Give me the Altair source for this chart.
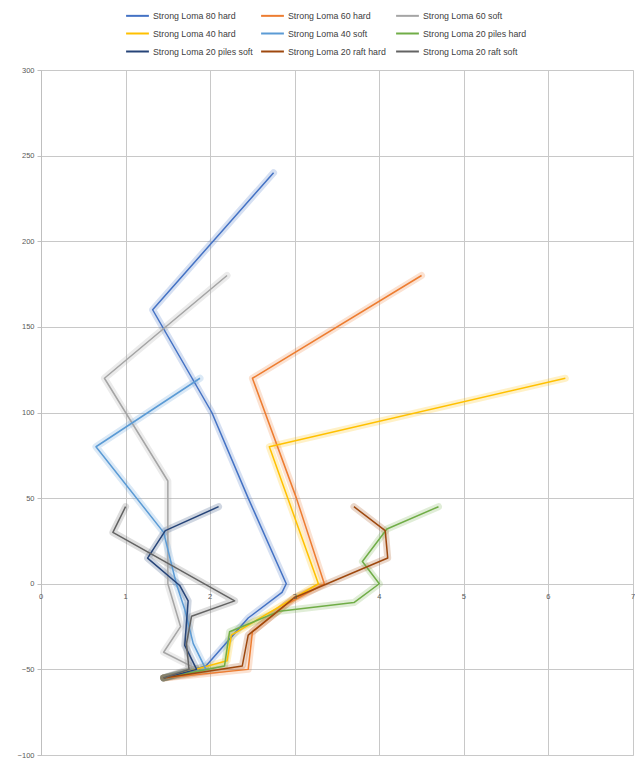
import altair as alt
import pandas as pd

series = [
    "Strong Loma 80 hard", "Strong Loma 60 hard", "Strong Loma 60 soft",
    "Strong Loma 40 hard", "Strong Loma 40 soft", "Strong Loma 20 piles hard",
    "Strong Loma 20 piles soft", "Strong Loma 20 raft hard", "Strong Loma 20 raft soft",
]
colors = ["#4472C4", "#ED7D31", "#A5A5A5", "#FFC000", "#5B9BD5", "#70AD47",
          "#264478", "#9E480E", "#636363"]

x_80h = [1.45, 1.95, 2.45, 2.85, 2.9, 2.45, 2.02, 1.32, 2.75]
y_80h = [-55, -48, -20, -5, 0, 50, 100, 160, 240]
x_60h = [1.45, 2.45, 2.5, 2.9, 3.35, 3.02, 2.5, 4.5]
y_60h = [-55, -50, -28, -12, 0, 50, 120, 180]
x_60s = [1.45, 1.85, 1.45, 1.65, 1.5, 1.5, 0.75, 2.2]
y_60s = [-55, -50, -40, -25, 0, 60, 120, 180]
x_40h = [1.45, 2.2, 2.25, 3.28, 2.7, 6.2]
y_40h = [-55, -45, -30, 0, 80, 120]
x_40s = [1.45, 1.95, 1.8, 1.7, 1.6, 1.45, 0.65, 1.88]
y_40s = [-55, -50, -35, -15, 0, 30, 80, 120]
x_20ph = [1.45, 2.17, 2.23, 2.82, 3.7, 4.0, 3.8, 4.09, 4.7]
y_20ph = [-55, -48, -28, -16, -11, 0, 13, 32, 45]
x_20ps = [1.45, 1.84, 1.70, 1.74, 1.64, 1.26, 1.47, 2.1]
y_20ps = [-55, -50, -36, -10, -1, 15, 31, 45]
x_20rh = [1.45, 2.38, 2.45, 3.0, 4.1, 4.07, 3.7]
y_20rh = [-55, -48, -30, -8, 15, 31, 45]
x_20rs = [1.45, 1.75, 1.72, 1.78, 2.29, 0.85, 1.0]
y_20rs = [-55, -50, -35, -19, -10, 30, 45]

xs = [x_80h, x_60h, x_60s, x_40h, x_40s, x_20ph, x_20ps, x_20rh, x_20rs]
ys = [y_80h, y_60h, y_60s, y_40h, y_40s, y_20ph, y_20ps, y_20rh, y_20rs]

x_ticks = [0, 1, 2, 3, 4, 5, 6, 7]
y_ticks = [-100, -50, 0, 50, 100, 150, 200, 250, 300]

rows = []
for name, xv, yv in zip(series, xs, ys):
    for i, (a, b) in enumerate(zip(xv, yv)):
        rows.append({"series": name, "x": a, "y": b, "idx": i})
df = pd.DataFrame(rows)
tick_df = pd.DataFrame({"x": x_ticks, "y": [0] * len(x_ticks), "lbl": [str(t) for t in x_ticks]})

FONT = "Liberation Sans"
xscale = alt.Scale(domain=[0, 7], nice=False, zero=False)
yscale = alt.Scale(domain=[-100, 300], nice=False, zero=False)
cscale = alt.Scale(domain=series, range=colors)

legend = alt.Legend(title=None, orient="none", legendX=84, legendY=-67,
                    columns=3, symbolType="stroke", symbolSize=520,
                    symbolStrokeWidth=2, symbolOpacity=1, labelFontSize=8.8,
                    labelFont=FONT, labelColor="#404040",
                    columnPadding=0, rowPadding=-2, gridAlign="all",
                    labelLimit=200, labelOffset=3, direction="horizontal")

base = alt.Chart(df)

glow = base.mark_line(strokeWidth=7, opacity=0.22, strokeJoin="round", strokeCap="round").encode(
    x=alt.X("x:Q", scale=xscale, axis=alt.Axis(values=x_ticks, labels=False, ticks=False,
                                               domain=False, grid=True, title=None,
                                               gridColor="#C8C8C8", gridWidth=1)),
    y=alt.Y("y:Q", scale=yscale, axis=alt.Axis(values=y_ticks, title=None, grid=True,
                                               gridColor="#C8C8C8", gridWidth=1,
                                               domain=True, domainColor="#BFBFBF",
                                               ticks=True, tickSize=4, tickColor="#BFBFBF",
                                               labelFontSize=7.5, labelColor="#595959",
                                               labelFont=FONT, labelPadding=3)),
    color=alt.Color("series:N", scale=cscale, sort=series, legend=legend),
    detail="series:N",
    order="idx:Q",
)

lines = base.mark_line(strokeWidth=1.5, strokeJoin="round").encode(
    x=alt.X("x:Q", scale=xscale),
    y=alt.Y("y:Q", scale=yscale),
    color=alt.Color("series:N", scale=cscale, sort=series, legend=legend),
    order="idx:Q",
)

xlabels = alt.Chart(tick_df).mark_text(dy=13, fontSize=7.5, font=FONT, color="#595959").encode(
    x=alt.X("x:Q", scale=xscale),
    y=alt.Y("y:Q", scale=yscale),
    text="lbl:N",
)

chart = alt.layer(glow, lines, xlabels).properties(
    width=592, height=685,
    autosize=alt.AutoSizeParams(type="none"),
    padding={"left": 33, "top": 62, "right": 2, "bottom": 3},
).configure_view(stroke=None).configure(background="white")

chart.save("out.html", embed_options={"renderer": "svg", "actions": False})
